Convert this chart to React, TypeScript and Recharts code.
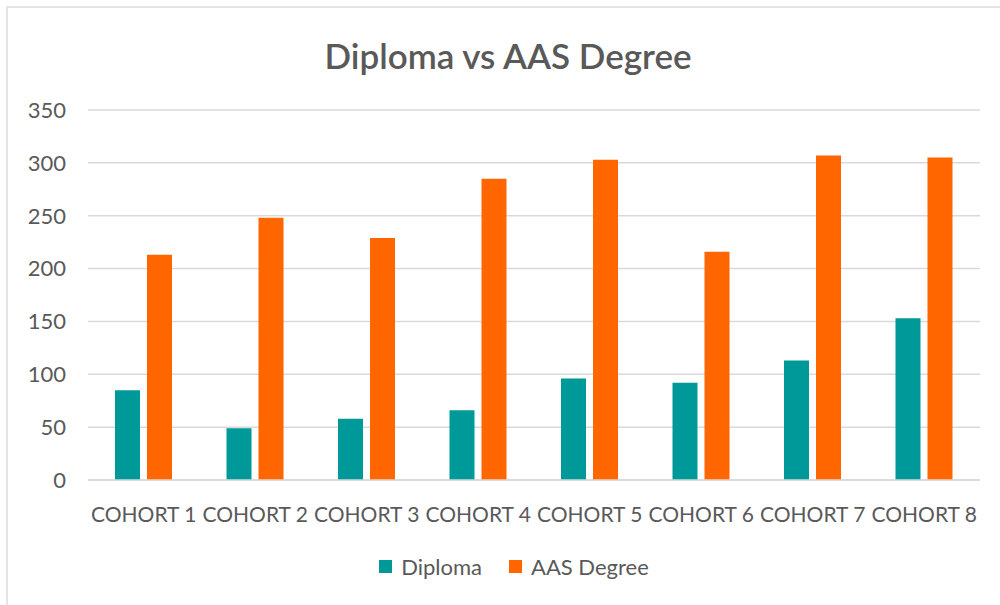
import { BarChart, Bar, XAxis, YAxis, CartesianGrid, Legend } from "recharts";

const cohorts = [
  "COHORT 1",
  "COHORT 2",
  "COHORT 3",
  "COHORT 4",
  "COHORT 5",
  "COHORT 6",
  "COHORT 7",
  "COHORT 8",
];
const diploma = [85, 49, 58, 66, 96, 92, 113, 153];
const aasDegree = [213, 248, 229, 285, 303, 216, 307, 305];
const yTicks = [0, 50, 100, 150, 200, 250, 300, 350];

const series = [
  { key: "diploma", name: "Diploma", color: "#009999" },
  { key: "aas", name: "AAS Degree", color: "#FF6600" },
];

const data = cohorts.map((c, i) => ({
  cohort: c,
  diploma: diploma[i],
  aas: aasDegree[i],
}));

const font = "Lato, 'Open Sans', sans-serif";
const textColor = "#595959";

function LegendContent() {
  return (
    <div style={{ display: "flex", justifyContent: "center", alignItems: "center", height: 30 }}>
      {series.map((s, i) => (
        <div
          key={s.key}
          style={{ display: "flex", alignItems: "center", marginLeft: i ? 27 : 0 }}
        >
          <span style={{ width: 13, height: 13, background: s.color, display: "inline-block" }} />
          <span style={{ marginLeft: 9, fontSize: 22, color: textColor, fontFamily: font }}>
            {s.name}
          </span>
        </div>
      ))}
    </div>
  );
}

export default function App() {
  return (
    <div style={{ position: "absolute", left: 0, top: 0, width: 1000, height: 605, background: "#fff" }}>
      <div
        style={{
          position: "absolute",
          left: 6,
          top: 6,
          width: 1000,
          height: 605,
          borderTop: "2px solid #e4e4e4",
          borderLeft: "2px solid #e4e4e4",
        }}
      />
      <div
        style={{
          position: "absolute",
          left: 0,
          top: 34,
          width: 1016,
          textAlign: "center",
          fontFamily: font,
          fontSize: 35,
          fontWeight: 600,
          color: textColor,
          lineHeight: "42px",
        }}
      >
        Diploma vs AAS Degree
      </div>
      <BarChart
        width={1000}
        height={605}
        data={data}
        margin={{ top: 110, right: 20, left: 0, bottom: 65 }}
        barSize={25}
        barGap={7}
        style={{ position: "absolute", left: 0, top: 0 }}
      >
        <CartesianGrid vertical={false} stroke="#d9d9d9" strokeWidth={1.5} />
        <XAxis
          dataKey="cohort"
          interval={0}
          tickLine={false}
          axisLine={{ stroke: "#d9d9d9", strokeWidth: 1.5 }}
          tickMargin={21}
          tick={{ fontSize: 21, fill: textColor, fontFamily: font }}
          height={30}
        />
        <YAxis
          domain={[0, 350]}
          ticks={yTicks}
          width={88}
          tickLine={false}
          axisLine={false}
          tickMargin={16}
          tick={{ fontSize: 22, fill: textColor, fontFamily: font }}
        />
        <Legend
          content={<LegendContent />}
          wrapperStyle={{ top: 551, bottom: "auto", left: 14, width: 1000, height: 30 }}
        />
        {series.map((s) => (
          <Bar key={s.key} dataKey={s.key} name={s.name} fill={s.color} isAnimationActive={false} />
        ))}
      </BarChart>
    </div>
  );
}
